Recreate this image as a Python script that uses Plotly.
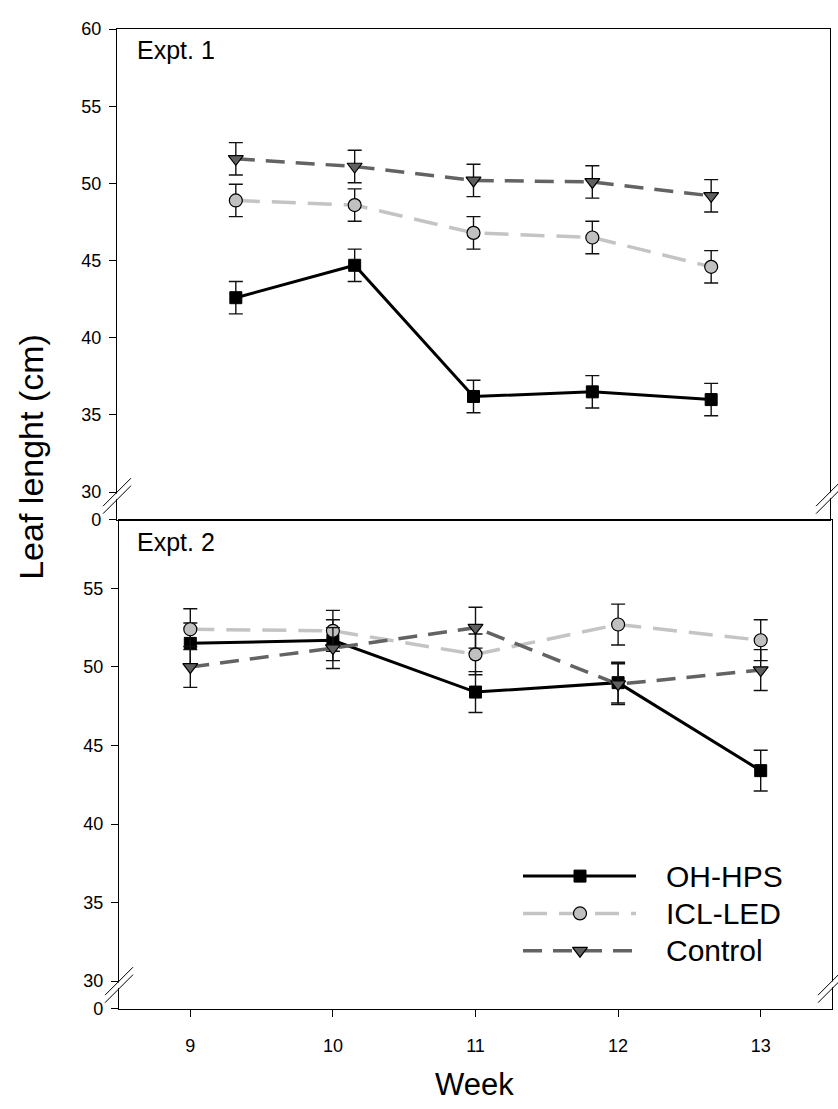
import plotly.graph_objects as go

# ---- data -------------------------------------------------------------
weeks = [9, 10, 11, 12, 13]

# Expt. 1 leaf length (cm) and standard errors
oh_hps_1 = [42.6, 44.7, 36.2, 36.5, 36.0]
oh_hps_1_se = [1.05, 1.05, 1.05, 1.05, 1.05]
icl_led_1 = [48.9, 48.6, 46.8, 46.5, 44.6]
icl_led_1_se = [1.05, 1.05, 1.05, 1.05, 1.05]
control_1 = [51.6, 51.1, 50.2, 50.1, 49.2]
control_1_se = [1.05, 1.05, 1.05, 1.05, 1.05]

# Expt. 2 leaf length (cm) and standard errors
oh_hps_2 = [51.5, 51.7, 48.4, 49.0, 43.4]
oh_hps_2_se = [1.3, 1.3, 1.3, 1.3, 1.3]
icl_led_2 = [52.4, 52.3, 50.8, 52.7, 51.7]
icl_led_2_se = [1.3, 1.3, 1.3, 1.3, 1.3]
control_2 = [50.0, 51.2, 52.5, 48.9, 49.8]
control_2_se = [1.3, 1.3, 1.3, 1.3, 1.3]

series_names = ["OH-HPS", "ICL-LED", "Control"]
y_ticks = [30, 35, 40, 45, 50, 55, 60]
x_ticks = [9, 10, 11, 12, 13]

# ---- styling ----------------------------------------------------------
W, H = 838, 1109
FONT = "Liberation Sans, Arial, sans-serif"
styles = {
    "OH-HPS": dict(line=dict(color="#000000", width=3),
                   marker=dict(symbol="square", size=12, color="#000000",
                               line=dict(color="#000000", width=1))),
    "ICL-LED": dict(line=dict(color="#c4c4c4", width=3.5, dash="24px,12px"),
                    marker=dict(symbol="circle", size=13, color="#c0c0c0",
                                line=dict(color="#000000", width=1.2))),
    "Control": dict(line=dict(color="#636363", width=3.5, dash="19px,11px"),
                    marker=dict(symbol="triangle-down", size=13, color="#606060",
                                line=dict(color="#000000", width=1.2))),
}


def px_x(p):
    return p / W


def px_y(p):
    return (H - p) / H


# panel geometry (fractions of the page)
top_x = [px_x(117), px_x(830)]
bot_x = [px_x(119), px_x(832)]
top_y = [px_y(519), px_y(19.5)]
bot_y = [px_y(1017), px_y(519)]
top_range = [28.22, 60]
bot_range = [28.25, 59.375]

fig = go.Figure()

panels = [
    ("x", "y", [oh_hps_1, icl_led_1, control_1],
     [oh_hps_1_se, icl_led_1_se, control_1_se]),
    ("x2", "y2", [oh_hps_2, icl_led_2, control_2],
     [oh_hps_2_se, icl_led_2_se, control_2_se]),
]
for xa, ya, values, errors in panels:
    for name, vals, err in zip(series_names, values, errors):
        st = styles[name]
        fig.add_trace(go.Scatter(
            x=weeks, y=vals, name=name, mode="lines+markers",
            xaxis=xa, yaxis=ya, showlegend=False,
            line=st["line"], marker=st["marker"],
            error_y=dict(type="data", array=err, visible=True,
                         color="#111111", thickness=1.4, width=7),
        ))

# legend drawn on a page-sized overlay axis
leg_rows = [882, 920, 958]
for name, yrow in zip(series_names, leg_rows):
    st = styles[name]
    fig.add_trace(go.Scatter(
        x=[523, 636], y=[yrow, yrow], mode="lines", xaxis="x3", yaxis="y3",
        line=st["line"], showlegend=False, hoverinfo="skip"))
    fig.add_trace(go.Scatter(
        x=[580], y=[yrow], mode="markers", xaxis="x3", yaxis="y3",
        marker=st["marker"], showlegend=False, hoverinfo="skip"))

axis_common = dict(showgrid=False, zeroline=False, showline=True,
                   linecolor="#000000", linewidth=1.3, mirror=True,
                   tickfont=dict(family=FONT, size=18, color="#000000"))

y_vals_top = [top_range[0]] + y_ticks
y_vals_bot = [bot_range[0]] + y_ticks[:-1]

fig.update_layout(
    width=W, height=H,
    margin=dict(l=0, r=0, t=0, b=0),
    paper_bgcolor="white", plot_bgcolor="rgba(0,0,0,0)",
    showlegend=False,
    xaxis=dict(domain=top_x, range=[8, 14], anchor="y", showticklabels=False,
               ticks="", **axis_common),
    yaxis=dict(domain=top_y, range=top_range, anchor="x",
               tickvals=y_vals_top,
               ticktext=["0"] + [str(v) for v in y_ticks],
               ticks="outside", ticklen=7, tickwidth=1.3, tickcolor="#000000",
               ticklabelstandoff=4, **axis_common),
    xaxis2=dict(domain=bot_x, range=[8.5, 13.5], anchor="y2",
                tickvals=x_ticks, ticktext=[str(v) for v in x_ticks],
                ticks="outside", ticklen=7, tickwidth=1.3, tickcolor="#000000",
                ticklabelstandoff=14, **axis_common),
    yaxis2=dict(domain=bot_y, range=bot_range, anchor="x2",
                tickvals=y_vals_bot,
                ticktext=["0"] + [str(v) for v in y_ticks[:-1]],
                ticks="outside", ticklen=7, tickwidth=1.3, tickcolor="#000000",
                ticklabelstandoff=4, **axis_common),
    xaxis3=dict(domain=[0, 1], range=[0, W], anchor="y3", visible=False,
                fixedrange=True),
    yaxis3=dict(domain=[0, 1], range=[H, 0], anchor="x3", visible=False,
                fixedrange=True),
)

# broken-axis marks: a pair of slashes across each vertical axis line
shapes = []
break_spots = [
    (px_x(117), "y", 30), (px_x(830), "y", 30),
    (px_x(119), "y2", 30), (px_x(832), "y2", 30),
]
for xa_, yref, yval in break_spots:
    base = dict(xref="paper", yref=yref, xsizemode="pixel", ysizemode="pixel",
                xanchor=xa_, yanchor=yval, layer="above")
    shapes.append(dict(type="line", x0=-9, y0=-12.75, x1=9, y1=5.25,
                       line=dict(color="white", width=4), **base))
    shapes.append(dict(type="line", x0=-14, y0=-14, x1=14, y1=14,
                       line=dict(color="#000000", width=1), **base))
    shapes.append(dict(type="line", x0=-14, y0=-21.5, x1=14, y1=6.5,
                       line=dict(color="#000000", width=1), **base))
fig.update_layout(shapes=shapes)

annotations = [
    dict(text="Expt. 1", x=px_x(135), y=px_y(41), xref="paper", yref="paper",
         xanchor="left", yanchor="middle", showarrow=False,
         font=dict(family=FONT, size=25, color="#000000")),
    dict(text="Expt. 2", x=px_x(135), y=px_y(542), xref="paper", yref="paper",
         xanchor="left", yanchor="middle", showarrow=False,
         font=dict(family=FONT, size=25, color="#000000")),
    dict(text="Leaf lenght (cm)", x=px_x(31), y=px_y(455), xref="paper",
         yref="paper", xanchor="center", yanchor="middle", textangle=-90,
         showarrow=False, font=dict(family=FONT, size=34, color="#000000")),
    dict(text="Week", x=px_x(474), y=px_y(1094), xref="paper", yref="paper",
         xanchor="center", yanchor="middle", showarrow=False,
         font=dict(family=FONT, size=31, color="#000000")),
]
for name, yrow in zip(series_names, leg_rows):
    annotations.append(dict(
        text=name, x=px_x(664), y=px_y(yrow), xref="paper", yref="paper",
        xanchor="left", yanchor="middle", showarrow=False,
        font=dict(family=FONT, size=30, color="#000000")))
fig.update_layout(annotations=annotations)

fig.write_html("out.html")
